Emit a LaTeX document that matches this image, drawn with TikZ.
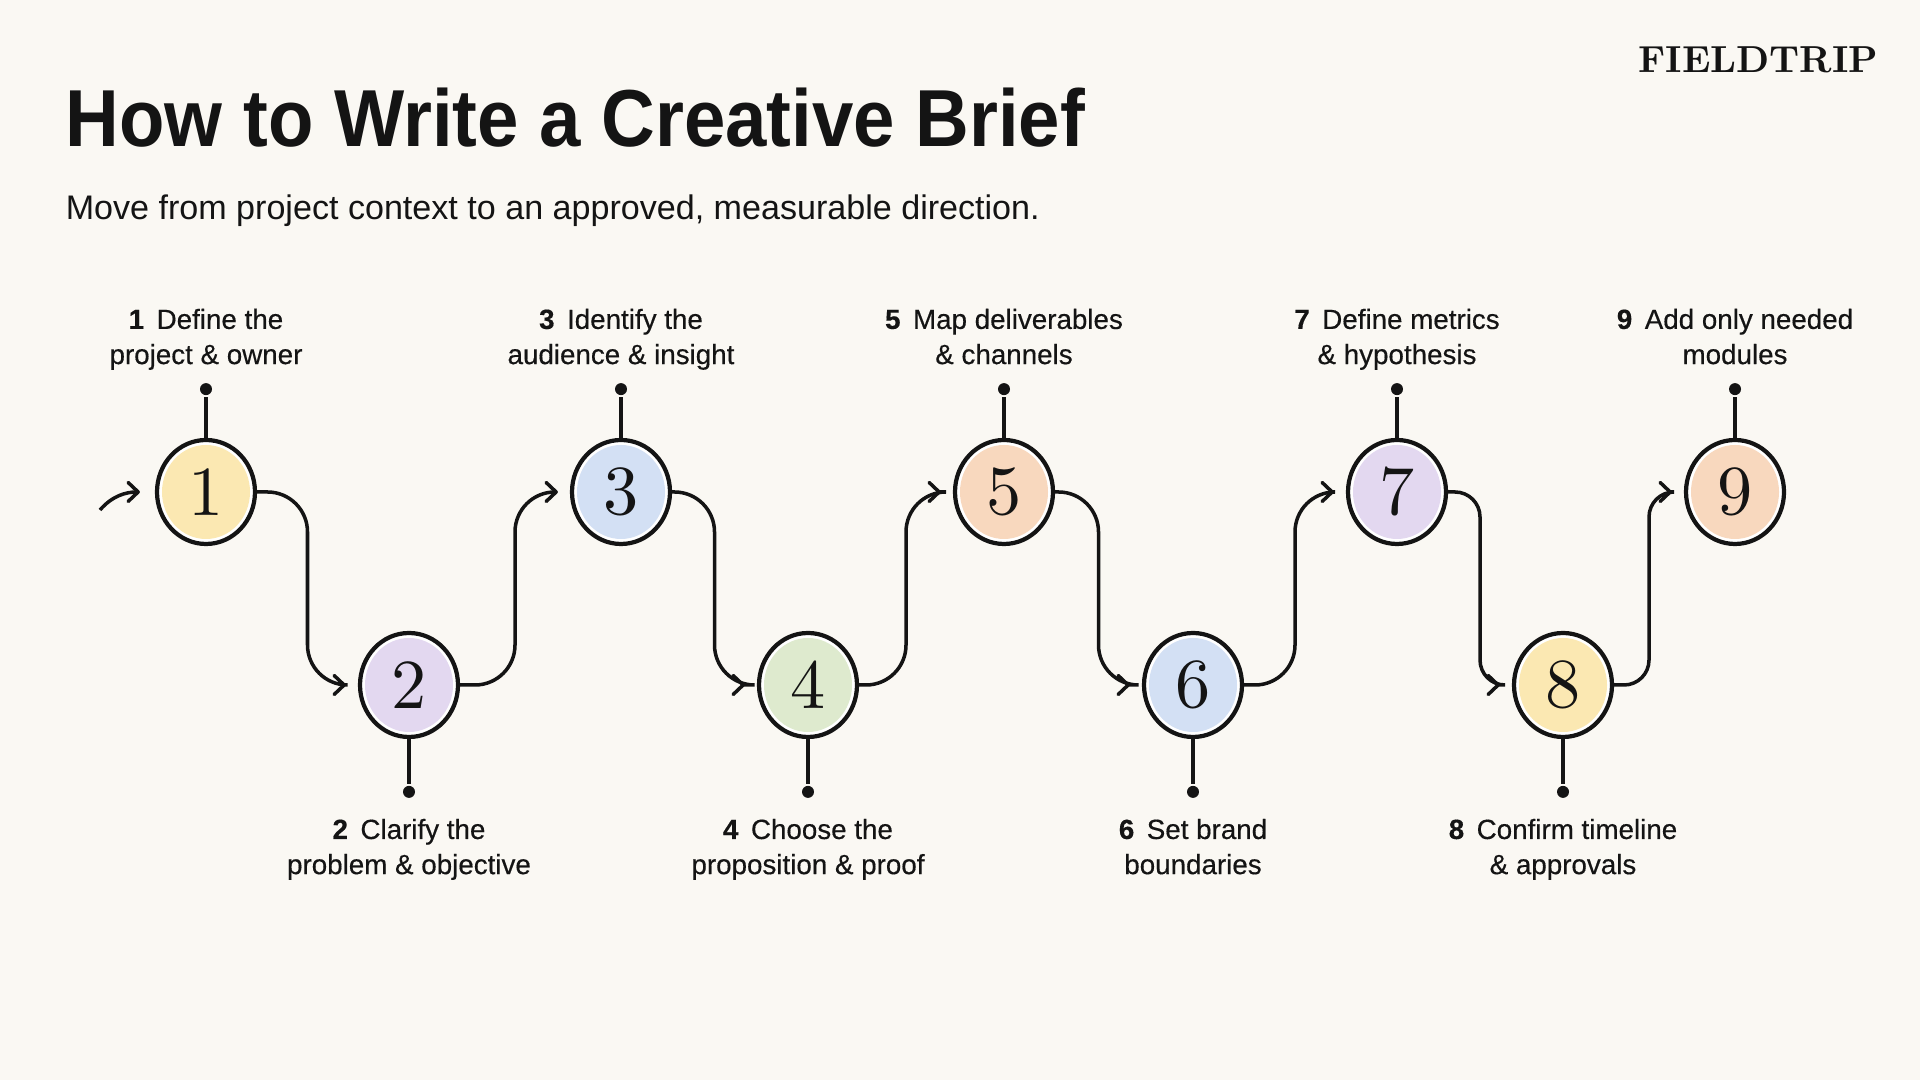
\documentclass[tikz,border=0pt]{standalone}
\usepackage{fontspec}
\usetikzlibrary{shapes.geometric}
\usetikzlibrary{calc}
\usetikzlibrary{positioning}
\usetikzlibrary{arrows.meta}

\newfontfamily\headfont[FakeStretch=0.92]{Liberation Sans}
\newfontfamily\bodyfont{Liberation Sans}
\newfontfamily\labelfont[FakeBold=0.4]{Liberation Sans}
\newfontfamily\numfont[Extension=.otf]{lmroman10-regular}

\definecolor{paper}{HTML}{FAF8F3}
\definecolor{ink}{HTML}{141414}
\definecolor{butter}{HTML}{FBE8B2}
\definecolor{lilac}{HTML}{E3D8F0}
\definecolor{sky}{HTML}{D3E0F4}
\definecolor{sage}{HTML}{DEEACE}
\definecolor{peach}{HTML}{F8D8BE}

\newcommand*{\steplabel}[3]{\strut\textbf{#1}\hspace{0.45em}#2\\#3\strut}

\begin{document}
\begin{tikzpicture}[ink, line width = 1pt,
    disc/.style = {ellipse, draw = ink, line width = 1.2pt, fill = white,
        minimum width = 0.98cm, minimum height = 1.04cm, inner sep = 0pt,
        font = \numfont\fontsize{20}{20}\selectfont,
        path picture = {\fill[#1] (path picture bounding box.center)
            ellipse [x radius = 0.44cm, y radius = 0.47cm];}},
    knob/.style = {circle, fill = ink, inner sep = 0pt, minimum size = 0.12cm},
    tag/.style = {align = center, inner sep = 0pt,
        font = \labelfont\fontsize{7.9}{10}\selectfont},
    flow/.style = {rounded corners = #1, shorten > = 0.12cm,
        -{Straight Barb[length = 1mm, width = 1.9mm, round]}},
    flow/.default = 0.4cm]

    \useasboundingbox (0,0) rectangle (19.2,10.8);
    \fill[paper] (0,0) rectangle (19.2,10.8);

    %\draw[help lines, opacity = 0.1] (0,0) grid (19.2,10.8);

    \node (title) at (0.64,9.33) [anchor = base west, inner sep = 0pt,
        font = \headfont\bfseries\fontsize{23}{23}\selectfont] {How to Write a Creative Brief};
    \node (subtitle) at (0.64,8.60) [anchor = base west, inner sep = 0pt,
        font = \bodyfont\fontsize{9.7}{12}\selectfont] {Move from project context to an approved, measurable direction.};
    \node (brand) at (18.80,10.07) [anchor = base east, inner sep = 0pt,
        font = \bfseries\fontsize{10.7}{12}\selectfont] {FIELDTRIP};

    % the steps
    \node (s1) at (2.06,5.88) [disc = butter] {1};
    \node (s2) at (4.09,3.95) [disc = lilac] {2};
    \node (s3) at (6.21,5.88) [disc = sky] {3};
    \node (s4) at (8.08,3.95) [disc = sage] {4};
    \node (s5) at (10.04,5.88) [disc = peach] {5};
    \node (s6) at (11.93,3.95) [disc = sky] {6};
    \node (s7) at (13.97,5.88) [disc = lilac] {7};
    \node (s8) at (15.63,3.95) [disc = butter] {8};
    \node (s9) at (17.35,5.88) [disc = peach] {9};

    % pins
    \node (k1) [knob, above = 0.41cm of s1] {};
    \node (k2) [knob, below = 0.45cm of s2] {};
    \node (k3) [knob, above = 0.41cm of s3] {};
    \node (k4) [knob, below = 0.45cm of s4] {};
    \node (k5) [knob, above = 0.41cm of s5] {};
    \node (k6) [knob, below = 0.45cm of s6] {};
    \node (k7) [knob, above = 0.41cm of s7] {};
    \node (k8) [knob, below = 0.45cm of s8] {};
    \node (k9) [knob, above = 0.41cm of s9] {};

    \draw (s1) -- (k1);
    \draw (s2) -- (k2);
    \draw (s3) -- (k3);
    \draw (s4) -- (k4);
    \draw (s5) -- (k5);
    \draw (s6) -- (k6);
    \draw (s7) -- (k7);
    \draw (s8) -- (k8);
    \draw (s9) -- (k9);

    % labels
    \node (t1) [tag, above = 0.05cm of k1] {\steplabel{1}{Define the}{project \& owner}};
    \node (t2) [tag, below = 0.13cm of k2] {\steplabel{2}{Clarify the}{problem \& objective}};
    \node (t3) [tag, above = 0.05cm of k3] {\steplabel{3}{Identify the}{audience \& insight}};
    \node (t4) [tag, below = 0.13cm of k4] {\steplabel{4}{Choose the}{proposition \& proof}};
    \node (t5) [tag, above = 0.05cm of k5] {\steplabel{5}{Map deliverables}{\& channels}};
    \node (t6) [tag, below = 0.13cm of k6] {\steplabel{6}{Set brand}{boundaries}};
    \node (t7) [tag, above = 0.05cm of k7] {\steplabel{7}{Define metrics}{\& hypothesis}};
    \node (t8) [tag, below = 0.13cm of k8] {\steplabel{8}{Confirm timeline}{\& approvals}};
    \node (t9) [tag, above = 0.05cm of k9] {\steplabel{9}{Add only needed}{modules}};

    % the path through the steps
    \coordinate (entry) at (1.00,5.70);
    \draw[flow, shorten > = 0pt] (entry) .. controls +(0.12,0.14) and +(-0.14,0) .. ([xshift = -0.15cm]s1.west);

    \draw[flow] (s1.east) -| ($(s1.east)!0.5!(s2.west)$) |- (s2.west);
    \draw[flow] (s2.east) -| ($(s2.east)!0.5!(s3.west)$) |- (s3.west);
    \draw[flow] (s3.east) -| ($(s3.east)!0.5!(s4.west)$) |- (s4.west);
    \draw[flow] (s4.east) -| ($(s4.east)!0.5!(s5.west)$) |- (s5.west);
    \draw[flow] (s5.east) -| ($(s5.east)!0.5!(s6.west)$) |- (s6.west);
    \draw[flow] (s6.east) -| ($(s6.east)!0.5!(s7.west)$) |- (s7.west);
    \draw[flow = 0.25cm] (s7.east) -| ($(s7.east)!0.5!(s8.west)$) |- (s8.west);
    \draw[flow = 0.25cm] (s8.east) -| ($(s8.east)!0.5!(s9.west)$) |- (s9.west);

\end{tikzpicture}
\end{document}
